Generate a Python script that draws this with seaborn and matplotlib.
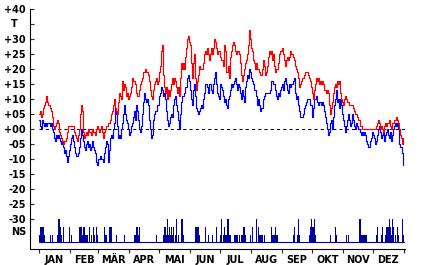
import numpy as np
import pandas as pd
import matplotlib
matplotlib.use("Agg")
import matplotlib.pyplot as plt
import matplotlib.transforms as mtransforms
import seaborn as sns

months = ["JAN", "FEB", "MÄR", "APR", "MAI", "JUN", "JUL", "AUG", "SEP", "OKT", "NOV", "DEZ"]
month_days = [31, 28, 31, 30, 31, 30, 31, 31, 30, 31, 30, 31]

ytick_vals = [40, 35, 30, 25, 20, 15, 10, 5, 0, -5, -10, -15, -20, -25, -30]
ytick_labels = ["+40", "T", "+30", "+25", "+20", "+15", "+10", "+05", "+00",
                "-05", "-10", "-15", "-20", "-25", "-30"]

# daily maximum temperature (red)
tmax = [
    5, 6, 4, 5, 7, 8, 9, 11, 9, 8,
    8, 7, 6, 4, 1, 0, 1, 2, 3, 2,
    -1, -2, -3, -4, -5, -4, -4, -3, -1, 1,
    1, 1, 1, 1, 1, -1, -2, -3, -4, -2,
    0, 5, 8, 6, -1, -3, -2, -1, -2, 0,
    -1, -1, -2, 0, -1, -1, -2, 0, 1, 0,
    -1, 0, 1, -1, -3, -1, 0, 1, 1, 2,
    2, 3, 5, 6, 8, 10, 7, 6, 5, 9,
    12, 11, 10, 16, 13, 15, 14, 11, 12, 10,
    11, 12, 14, 17, 16, 16, 15, 12, 11, 11,
    13, 15, 16, 17, 19, 19, 20, 19, 19, 18,
    16, 13, 11, 10, 13, 15, 16, 17, 15, 16,
    19, 21, 26, 28, 18, 14, 12, 14, 10, 13,
    11, 13, 15, 17, 15, 17, 16, 14, 12, 14,
    11, 17, 22, 20, 22, 20, 24, 27, 30, 31,
    29, 28, 22, 17, 22, 25, 17, 13, 16, 18,
    21, 20, 20, 20, 22, 25, 26, 25, 27, 25,
    23, 25, 27, 25, 27, 30, 29, 27, 25, 26,
    26, 24, 23, 23, 21, 28, 26, 19, 19, 21,
    17, 24, 26, 28, 29, 28, 26, 25, 26, 26,
    25, 22, 18, 16, 18, 20, 22, 23, 25, 28,
    33, 30, 27, 26, 23, 22, 20, 22, 20, 20,
    19, 18, 18, 20, 23, 21, 18, 19, 21, 24,
    26, 25, 26, 23, 25, 21, 19, 20, 20, 22,
    25, 26, 26, 27, 25, 23, 21, 23, 24, 23,
    24, 26, 25, 25, 24, 23, 21, 20, 19, 17,
    14, 15, 16, 17, 17, 18, 19, 19, 19, 18,
    17, 16, 14, 12, 10, 13, 15, 17, 16, 17,
    15, 16, 15, 16, 15, 13, 13, 12, 13, 12,
    8, 5, 7, 9, 12, 14, 15, 14, 16, 15,
    16, 12, 10, 9, 8, 10, 11, 10, 9, 9,
    8, 8, 8, 8, 7, 6, 5, 5, 4, 3,
    3, 1, 1, 0, 0, 0, 0, 0, 0, 0,
    0, 0, 0, 0, 0, 0, 0, 1, 2, 3,
    2, 0, 1, 0, -1, 1, 2, 1, 2, 2,
    3, 1, 0, 2, 2, 3, 3, 4, 3, 2,
    0, -2, -3, -5, -3,
]

# daily minimum temperature (blue)
tmin = [
    3, 1, 0, 3, 2, 1, 2, 1, 2, 2,
    2, 1, 2, 0, -1, -3, -4, -2, -3, -2,
    -3, -4, -5, -4, -6, -8, -7, -9, -11, -9,
    -7, -5, -3, -2, -4, -6, -8, -9, -9, -8,
    -6, -3, 0, -2, -4, -6, -7, -5, -4, -6,
    -5, -7, -6, -4, -6, -7, -8, -11, -12, -10,
    -10, -9, -10, -10, -11, -8, -6, -4, -5, -11,
    -7, -3, -2, -3, 0, 2, 7, 5, 1, -3,
    -2, -3, 0, 2, 5, 8, 5, 3, 2, 0,
    -2, -1, 1, 2, 4, 6, 3, 8, 6, 3,
    0, -1, 1, 5, 9, 12, 10, 9, 10, 8,
    3, 0, -3, -2, 3, 5, 6, 6, 8, 8,
    11, 12, 14, 13, 11, 12, 10, 6, 3, 1,
    2, 4, 5, 4, 8, 10, 11, 8, 6, 3,
    0, 5, 9, 11, 11, 12, 14, 14, 17, 18,
    16, 13, 10, 8, 13, 15, 11, 7, 6, 5,
    6, 7, 8, 7, 10, 12, 15, 15, 14, 12,
    15, 15, 13, 12, 15, 17, 19, 15, 12, 11,
    10, 15, 14, 13, 11, 9, 10, 8, 7, 10,
    11, 13, 15, 14, 15, 16, 17, 15, 13, 15,
    14, 12, 10, 13, 11, 9, 14, 16, 18, 17,
    20, 19, 17, 16, 15, 13, 13, 11, 8, 10,
    8, 6, 7, 7, 10, 11, 12, 12, 12, 12,
    12, 13, 16, 16, 15, 15, 13, 11, 10, 12,
    11, 13, 14, 15, 13, 16, 17, 15, 13, 12,
    15, 14, 15, 15, 16, 17, 12, 10, 11, 8,
    6, 4, 4, 4, 5, 7, 8, 9, 10, 10,
    10, 8, 8, 4, 7, 10, 10, 11, 9, 8,
    9, 9, 8, 9, 8, 6, 4, 2, 0, -2,
    -1, 2, 3, 0, 4, 8, 10, 13, 9, 10,
    7, 10, 8, 5, 3, 1, -1, 1, 3, 5,
    3, 1, 2, 5, 3, 1, 0, 2, 1, 0,
    0, -1, -2, -1, -2, -1, -2, -4, -5, -6,
    -6, -4, -3, -1, -2, -3, -5, -4, -2, 0,
    1, -1, -3, -2, -1, -4, -2, -1, 0, -2,
    -3, -1, -4, -2, 0, 1, 2, 1, 2, 0,
    -5, -6, -6, -8, -12,
]

# precipitation days (NS) and their class (1..3)
rain_days = [
    0, 1, 2, 3, 4, 5, 11, 13, 18, 19, 20, 21, 22, 24, 30, 32,
    40, 41, 42, 43, 44, 45, 46, 47, 48, 50, 52, 54, 55, 57, 58,
    65, 66, 67, 70, 71, 72, 77, 85, 95, 96, 97, 98, 99, 100, 117,
    124, 125, 126, 127, 128, 129, 130, 131, 132, 133, 134, 136, 137, 139,
    142, 143, 144, 156, 157, 158, 159, 160, 166, 169,
    173, 177, 181, 182, 184, 185, 186, 187, 188, 189, 190, 191,
    195, 196, 197, 198, 200, 202, 203, 204, 205, 206, 211, 213, 217,
    219, 220, 221, 222, 223, 225, 232, 233, 234, 235, 236, 237, 238,
    254, 255, 258, 259, 260, 270, 271, 272, 273, 274, 275, 276,
    291, 296, 297, 307, 309, 320, 321, 322, 323, 324, 325, 326, 327,
    337, 338, 342, 343, 346, 347, 348, 349, 350, 351, 352, 353, 354,
    356, 358, 359, 363, 364,
]
rain_levels = [
    1, 2, 2, 2, 2, 1, 1, 1, 1, 3, 3, 2, 1, 2, 2, 1,
    2, 2, 2, 1, 2, 2, 1, 1, 1, 2, 1, 2, 1, 2, 1,
    2, 1, 1, 2, 2, 2, 1, 1, 1, 1, 2, 2, 1, 2, 1,
    1, 2, 2, 1, 3, 1, 2, 1, 2, 1, 2, 1, 3, 1,
    3, 3, 1, 2, 2, 2, 2, 1, 2, 1,
    1, 2, 1, 3, 1, 2, 1, 1, 3, 3, 1, 1,
    1, 1, 1, 1, 1, 1, 1, 2, 2, 1, 1, 2, 3,
    2, 1, 1, 1, 1, 1, 2, 1, 1, 1, 2, 1, 1,
    1, 2, 1, 3, 1, 1, 2, 3, 2, 2, 3, 1,
    1, 2, 1, 1, 1, 3, 3, 1, 1, 1, 1, 1, 1,
    1, 2, 1, 2, 1, 2, 2, 2, 3, 2, 1, 3, 2,
    1, 2, 1, 3, 1,
]

RAIN_BASE = -37.8
RAIN_STEP = 2.6
NAVY = "#0000a0"

sns.set_style("white")
plt.rcParams["font.family"] = ["DejaVu Sans"]

W, H = 432, 265
fig = plt.figure(figsize=(W / 100, H / 100), dpi=100)
ax = fig.add_axes([30 / W, 16 / H, 375 / W, 249 / H])

n = len(tmax)
days = np.arange(n)
df = pd.DataFrame({
    "day": np.concatenate([days, days]),
    "temp": tmin + tmax,
    "kind": ["min"] * n + ["max"] * n,
})

# zero line
ax.plot([0, 366], [0, 0], color="black", lw=0.75, dashes=(3, 3), zorder=1)

sns.lineplot(data=df, x="day", y="temp", hue="kind", hue_order=["min", "max"],
             palette={"min": "#0000ff", "max": "#ff0000"}, estimator=None,
             linewidth=0.85, drawstyle="steps-mid", legend=False, ax=ax, zorder=3)

# precipitation bars
ax.plot([0, n], [RAIN_BASE, RAIN_BASE], color=NAVY, lw=0.8, zorder=2)
ax.bar(rain_days, [lv * RAIN_STEP for lv in rain_levels], bottom=RAIN_BASE,
       width=1.0, color=NAVY, linewidth=0, zorder=2)

ax.set_xlim(-9, 366)
ax.set_ylim(-40, 43)
ax.set_xlabel("")
ax.set_ylabel("")

for s in ["top", "right"]:
    ax.spines[s].set_visible(False)
for s in ["left", "bottom"]:
    ax.spines[s].set_color("black")
    ax.spines[s].set_linewidth(0.8)
ax.spines["left"].set_bounds(-40, 40)

fnt = dict(fontsize=7, fontweight="bold", color="black")

# y ticks
ax.set_yticks(ytick_vals)
ax.set_yticklabels(["" if l == "T" else l for l in ytick_labels], **fnt)
ax.tick_params(axis="y", direction="in", length=3, width=0.8, pad=3, left=True)

trans = mtransforms.blended_transform_factory(fig.transFigure, ax.transData)
ax.text(14.5 / W, 35, "T", transform=trans, ha="center", va="center", **fnt)
ax.text(18.5 / W, -34.3, "NS", transform=trans, ha="center", va="center", **fnt)

# x ticks: month boundaries (major), labels at month centres (minor)
bounds = np.concatenate([[0], np.cumsum(month_days)])
centers = (bounds[:-1] + bounds[1:]) / 2
ax.set_xticks(bounds)
ax.set_xticklabels([])
ax.set_xticks(centers, minor=True)
ax.set_xticklabels(months, minor=True, **fnt)
ax.tick_params(axis="x", which="major", direction="out", length=3, width=0.8, bottom=True)
ax.tick_params(axis="x", which="minor", length=0, pad=4, bottom=True)

fig.savefig("out.png", dpi=100)
